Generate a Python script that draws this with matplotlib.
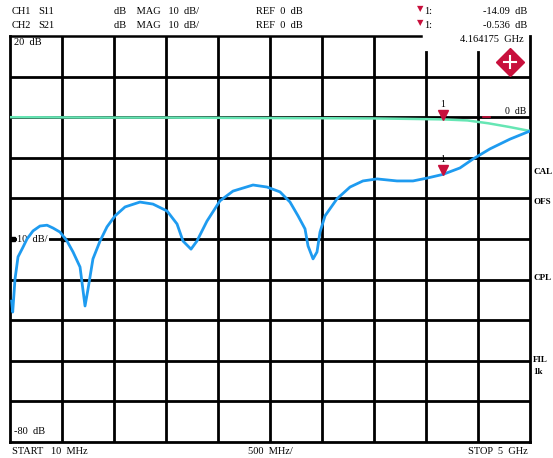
import matplotlib
matplotlib.use("Agg")
import matplotlib.pyplot as plt
import matplotlib.transforms as mtransforms

s11_freq = [0.026, 0.036, 0.058, 0.087, 0.135, 0.173, 0.231, 0.298, 0.365, 0.423,
            0.490, 0.557, 0.615, 0.682, 0.730, 0.759, 0.806, 0.874, 0.941, 1.018,
            1.114, 1.257, 1.382, 1.517, 1.613, 1.670, 1.747, 1.804, 1.900, 2.025,
            2.150, 2.342, 2.476, 2.601, 2.697, 2.774, 2.841, 2.870, 2.918, 2.956,
            2.985, 3.033, 3.148, 3.273, 3.397, 3.532, 3.724, 3.877, 4.012, 4.164,
            4.328, 4.453, 4.616, 4.808, 5.0]
s11_db = [-45.3, -48.0, -39.9, -34.4, -32.0, -30.0, -28.0, -26.8, -26.6, -27.3,
          -28.3, -30.5, -33.2, -36.9, -46.5, -42.3, -34.9, -30.5, -27.0, -24.3,
          -22.1, -20.9, -21.4, -23.1, -26.3, -30.5, -32.5, -30.5, -25.6, -20.6,
          -18.2, -16.7, -17.2, -18.4, -20.9, -24.3, -27.5, -31.7, -34.9, -33.2,
          -28.3, -24.3, -20.1, -17.2, -15.7, -15.2, -15.7, -15.7, -15.0, -14.09,
          -12.5, -10.3, -7.8, -5.4, -3.4]

s21_freq = [0.01, 0.5, 1.0, 1.5, 2.0, 2.5, 3.0, 3.5, 3.8, 4.164, 4.4, 4.6, 4.8, 5.0]
s21_db = [0.0, -0.05, -0.1, -0.1, -0.15, -0.2, -0.25, -0.3, -0.4, -0.536,
          -0.8, -1.5, -2.4, -3.4]

marker_freq = 4.164175
marker_s11 = -14.09
marker_s21 = -0.536

f_start, f_stop = 0.01, 5.0
ref_top, ref_bottom = 20, -80

W, H = 553, 458
fig = plt.figure(figsize=(W / 100, H / 100), dpi=100)
plt.rcParams['font.family'] = ['Liberation Serif', 'DejaVu Serif']

def fx(px):
    return px / W

def fy(py):
    return 1 - py / H

ax = fig.add_axes([fx(10), fy(442), 520 / W, (442 - 36) / H])
ax.set_xlim(f_start, f_stop)
ax.set_ylim(ref_bottom, ref_top)
ax.set_xticks([])
ax.set_yticks([])

grid_lw = 2.0
for sp in ['left', 'right', 'bottom']:
    ax.spines[sp].set_linewidth(grid_lw)
ax.spines['top'].set_visible(False)
# top border stops where the marker readout box starts
ax.plot([0, 0.79], [1, 1], transform=ax.transAxes, color='black',
        lw=1.8, clip_on=False, zorder=2)

step = (f_stop - f_start) / 10
for d in range(1, 10):
    ymax = 0.96 if d >= 8 else 1.0
    ax.axvline(f_start + d * step, ymin=0, ymax=ymax, color='black', lw=grid_lw, zorder=1)
for lev in range(ref_bottom + 10, ref_top, 10):
    ax.axhline(lev, color='black', lw=grid_lw, zorder=1)

# traces
ax.plot(s21_freq, s21_db, color='#66E6B4', lw=1.8, zorder=4)
ax.plot(s11_freq, s11_db, color='#1E9BF0', lw=2.0, zorder=5)

# markers (tip of the triangle sits on the trace)
red = '#C8103C'
up = mtransforms.ScaledTranslation(0, 4 / 100, fig.dpi_scale_trans)
for val in (marker_s21, marker_s11):
    ax.plot([marker_freq], [val], marker='v', ms=7, color=red, mec=red,
            transform=ax.transData + up, zorder=6)
    ax.annotate('1', (marker_freq, val), xytext=(0, 11), textcoords='offset points',
                ha='center', va='center', fontsize=7, zorder=6)
ax.plot([4.55, 4.62], [0, 0], color=red, lw=1.2, zorder=5)

ax.text(4.76, 0.3, '0  dB', fontsize=7, ha='left', va='bottom', zorder=3)
ax.text(0.05, 19.5, '20  dB', fontsize=7.5, ha='left', va='top', zorder=3)
ax.text(0.05, -78.5, '-80  dB', fontsize=7.5, ha='left', va='bottom', zorder=3)
ax.text(0.08, -30, '10  dB/', fontsize=7.5, ha='left', va='center', zorder=3,
        bbox=dict(facecolor='white', edgecolor='none', pad=0.5))
ax.plot([0.035, 0.52], [-30, -30], ls='none', marker='s', ms=2.5, color='black', zorder=4)

# header
fs = 7.5
for row, (ch, par, mval) in enumerate([('CH1', 'S11', '-14.09  dB'),
                                       ('CH2', 'S21', '-0.536  dB')]):
    y = fy(11 + 14 * row)
    fig.text(fx(12), y, ch, fontsize=fs, va='center')
    fig.text(fx(38), y, par, fontsize=fs, va='center')
    fig.text(fx(114), y, 'dB    MAG   10  dB/', fontsize=fs, va='center')
    fig.text(fx(256), y, 'REF  0  dB', fontsize=fs, va='center')
    fig.text(fx(420), y + 2 / H, '\u25BC', fontsize=6, color=red, va='center', ha='center',
             family=['DejaVu Sans'])
    fig.text(fx(424), y, '1:', fontsize=fs, va='center')
    fig.text(fx(527), y, mval, fontsize=fs, va='center', ha='right')
fig.text(fx(524), fy(40), '4.164175  GHz', fontsize=fs, va='center', ha='right')

# footer
fig.text(fx(12), fy(451), 'START   10  MHz', fontsize=fs, va='center')
fig.text(fx(248), fy(451), '500  MHz/', fontsize=fs, va='center')
fig.text(fx(528), fy(451), 'STOP  5  GHz', fontsize=fs, va='center', ha='right')

# softkey labels on the right
for txt, py in [('CAL', 172), ('OFS', 202), ('CPL', 278), ('FIL', 360), ('1k', 372)]:
    fig.text(fx(533), fy(py), txt, fontsize=6.5, fontweight='bold', va='center')

# R&S style logo
lx, ly = fx(510), fy(62)
fig.lines.append(plt.Line2D([lx], [ly], marker='D', ms=14, color=red,
                            transform=fig.transFigure))
fig.lines.append(plt.Line2D([lx - 6 / W, lx + 6 / W], [ly, ly], color='white', lw=1.5,
                            transform=fig.transFigure))
fig.lines.append(plt.Line2D([lx, lx], [ly - 6 / H, ly + 6 / H], color='white', lw=1.5,
                            transform=fig.transFigure))

fig.savefig('out.png', dpi=100)
